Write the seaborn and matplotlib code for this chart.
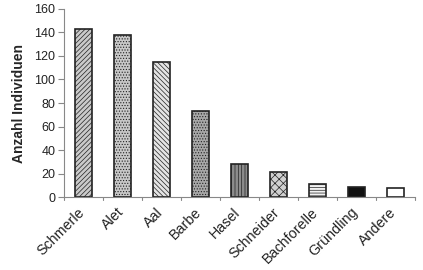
import matplotlib
matplotlib.use("Agg")
import matplotlib.pyplot as plt
import matplotlib.transforms as mtransforms
import seaborn as sns
import pandas as pd

categories = ["Schmerle", "Alet", "Aal", "Barbe", "Hasel", "Schneider", "Bachforelle", "Gründling", "Andere"]
values = [143, 138, 115, 73, 28, 21, 11, 9, 8]
colors = ["#cacaca", "#c8c8c8", "#e4e4e4", "#a8a8a8", "#8c8c8c", "#d0d0d0", "#f2f2f2", "#111111", "#ffffff"]
hatches = ["///////", "......", "\\\\\\\\\\\\\\", "......", "|||||", "xxxx", "------", "", ""]

sns.set_style("white")
plt.rcParams["font.family"] = ["Liberation Sans", "DejaVu Sans"]
plt.rcParams["hatch.linewidth"] = 0.5
plt.rcParams["hatch.color"] = "#555555"

df = pd.DataFrame({"cat": categories, "val": values})
fig = plt.figure(figsize=(4.23, 2.70), dpi=100)
ax = fig.add_axes([0.151, 0.270, 0.830, 0.697])
sns.barplot(data=df, x="cat", y="val", hue="cat", palette=colors, legend=False,
            width=0.42, edgecolor="#222222", linewidth=1.2, ax=ax, saturation=1)
for patch, h in zip(ax.patches, hatches):
    patch.set_hatch(h)

ax.set_ylim(0, 160)
ax.set_xlim(-0.5, len(categories) - 0.5)
ax.set_yticks(range(0, 161, 20))
ax.set_xticks(range(len(categories)))
ax.set_xticklabels([""] * len(categories))
base = mtransforms.blended_transform_factory(ax.transData, ax.transAxes)
offset = mtransforms.ScaledTranslation(-6 / 100, -8 / 100, fig.dpi_scale_trans)
for i, name in enumerate(categories):
    ax.text(i, 0, name, transform=base + offset, rotation=45, ha="right", va="top",
            rotation_mode="anchor", fontsize=10.3, color="#222222")
ax.tick_params(axis="y", labelsize=9, length=4, width=0.8, color="#888888", left=True, pad=2, labelcolor="#222222")
ax.tick_params(axis="x", length=0)
# boundary ticks
for b in [i - 0.5 for i in range(len(categories) + 1)]:
    ax.plot([b, b], [0, -2.5], color="#888888", lw=0.8, clip_on=False)
ax.set_xlabel("")
ax.set_ylabel("Anzahl Individuen", fontsize=10, fontweight="bold", labelpad=6)
for s in ["top", "right"]:
    ax.spines[s].set_visible(False)
for s in ["left", "bottom"]:
    ax.spines[s].set_color("#888888")
    ax.spines[s].set_linewidth(0.8)

fig.savefig("out.png", dpi=100)
